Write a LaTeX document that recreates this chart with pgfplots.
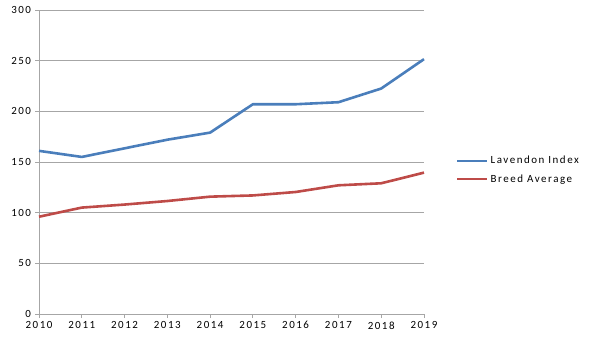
\documentclass[border=0pt]{standalone}
\usepackage{fontspec}
\setmainfont{Carlito}[LetterSpace=14]
\usepackage{pgfplots}
\pgfplotsset{compat=1.18}
\definecolor{xlblue}{HTML}{4A7EBB}
\definecolor{xlred}{HTML}{BE4B48}
\definecolor{gridgray}{HTML}{A6A6A6}
\begin{document}
\begin{tikzpicture}
\begin{axis}[
  scale only axis,
  width=385bp, height=304bp,
  xmin=2010, xmax=2019, ymin=0, ymax=300,
  xtick={2010,...,2019},
  ytick={0,50,...,300},
  xticklabel style={/pgf/number format/1000 sep=},
  /pgf/number format/assume math mode=true,
  axis x line*=bottom, axis y line*=left,
  axis line style={gridgray, line width=0.9bp, -},
  ymajorgrids, grid style={gridgray, line width=0.9bp},
  tick align=outside, major tick length=4bp,
  tick style={gridgray, line width=0.9bp},
  ticklabel style={font=\fontsize{11}{13}\selectfont, text=black},
  xticklabel style={yshift=0bp},
  yticklabel style={xshift=-0.5bp},
  legend style={at={(1.075,0.474)}, anchor=west, draw=none, fill=none,
    font=\fontsize{11}{13}\selectfont, row sep=5bp},
  legend cell align=left,
  legend image code/.code={\draw[#1] (0bp,0bp) -- (30bp,0bp);},
  clip=false,
]
\coordinate (O) at (rel axis cs:0,0);
\addplot[xlblue, line width=2.6bp, line join=round] coordinates {
 (2010,161) (2011,155) (2012,163.5) (2013,172) (2014,179) (2015,207) (2016,207) (2017,209) (2018,222.5) (2019,251.5)};
\addlegendentry{Lavendon Index}
\addplot[xlred, line width=2.6bp, line join=round] coordinates {
 (2010,96) (2011,105) (2012,108) (2013,111.5) (2014,115.8) (2015,117) (2016,120.4) (2017,127) (2018,129) (2019,139.5)};
\addlegendentry{Breed Average}
\end{axis}
\path[use as bounding box] ([shift={(-39bp,-43bp)}]O) rectangle +(589bp,357bp);
\end{tikzpicture}
\end{document}
